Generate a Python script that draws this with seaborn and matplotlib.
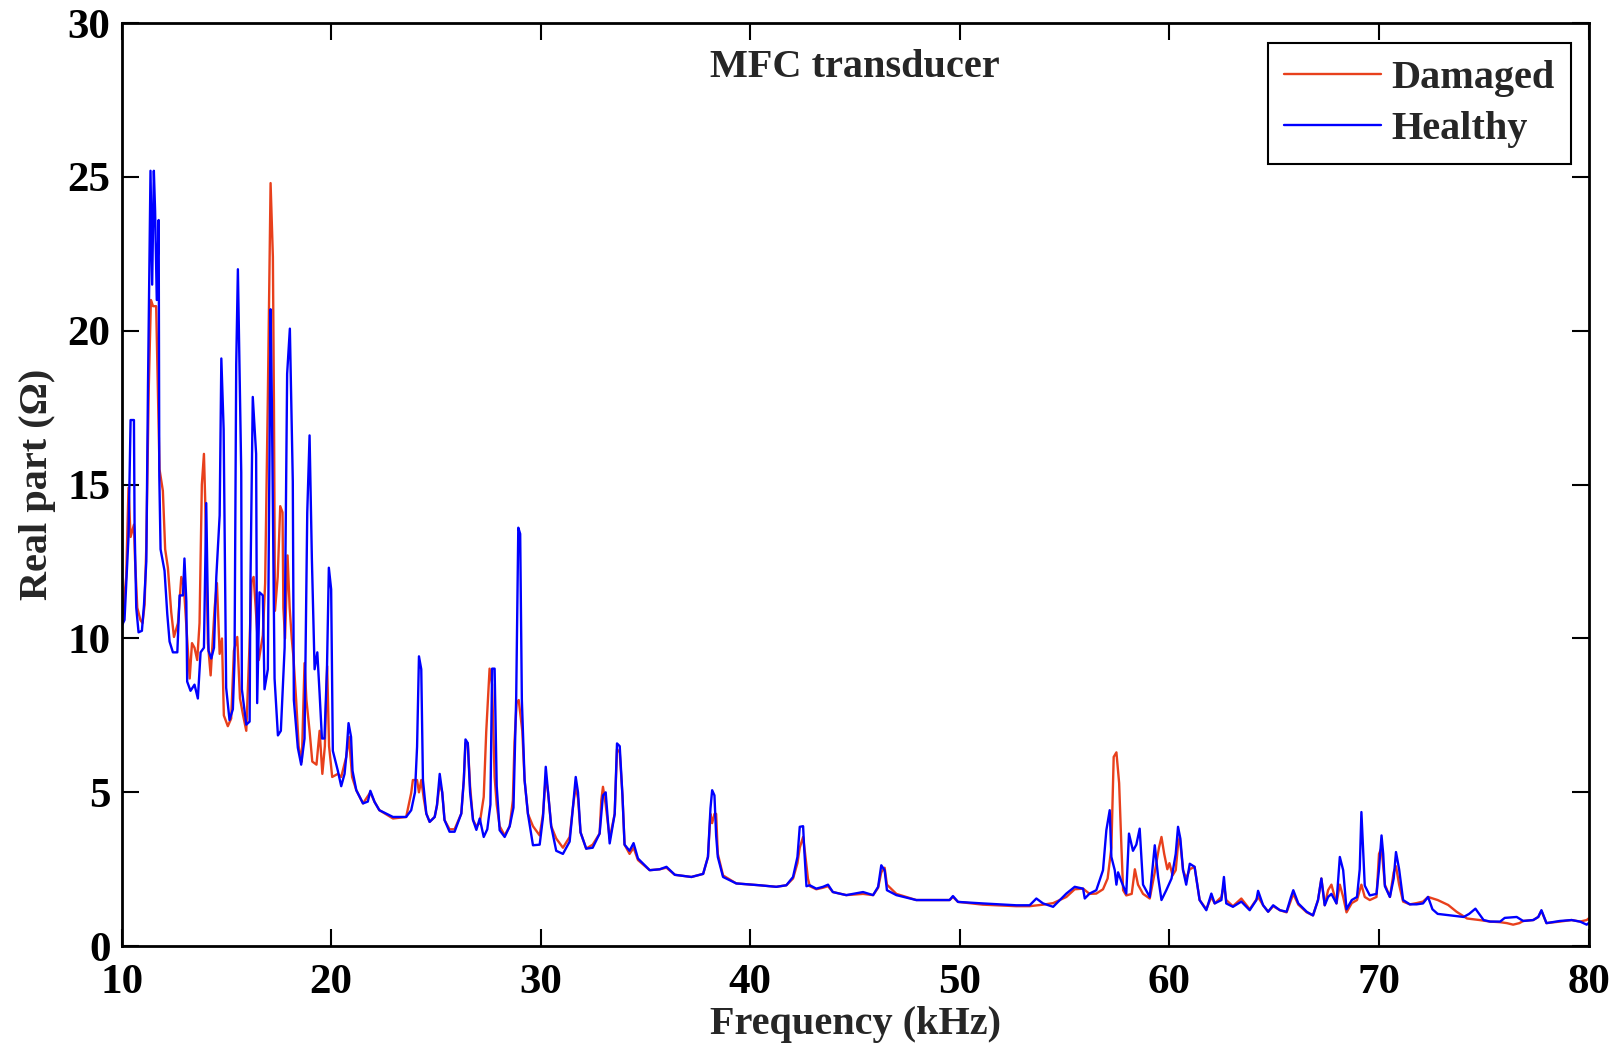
import numpy as np
import pandas as pd
import matplotlib
matplotlib.use("Agg")
import matplotlib.pyplot as plt
import seaborn as sns

# Healthy transducer, real part of impedance
healthy_khz = [10.0, 10.14, 10.33, 10.43, 10.59, 10.62, 10.7, 10.81, 10.97, 11.07,
               11.18, 11.26, 11.38, 11.46, 11.54, 11.6, 11.68, 11.77, 11.8, 11.86,
               12.05, 12.18, 12.29, 12.45, 12.66, 12.77, 12.93, 13.0, 13.09, 13.13,
               13.29, 13.48, 13.64, 13.77, 13.93, 14.04, 14.15, 14.28, 14.41, 14.52,
               14.68, 14.76, 14.87, 14.91, 14.99, 15.15, 15.31, 15.39, 15.47, 15.55,
               15.71, 15.74, 15.95, 16.11, 16.15, 16.26, 16.42, 16.47, 16.58, 16.74,
               16.82, 16.98, 17.11, 17.17, 17.3, 17.46, 17.6, 17.78, 17.9, 18.03,
               18.17, 18.22, 18.41, 18.57, 18.73, 18.86, 18.97, 19.08, 19.21, 19.34,
               19.45, 19.56, 19.68, 19.8, 19.89, 20.0, 20.08, 20.32, 20.48, 20.64,
               20.72, 20.83, 20.95, 21.02, 21.2, 21.52, 21.75, 21.87, 22.07, 22.3,
               22.95, 23.58, 23.82, 24.0, 24.1, 24.19, 24.3, 24.38, 24.54, 24.7,
               24.94, 25.05, 25.18, 25.3, 25.41, 25.65, 25.89, 26.21, 26.33, 26.41,
               26.52, 26.63, 26.77, 26.93, 27.09, 27.28, 27.45, 27.6, 27.68, 27.8,
               27.9, 28.04, 28.28, 28.52, 28.7, 28.83, 28.93, 29.02, 29.1, 29.23,
               29.39, 29.63, 29.95, 30.11, 30.24, 30.35, 30.5, 30.74, 31.06, 31.38,
               31.54, 31.67, 31.78, 31.9, 32.17, 32.48, 32.81, 32.97, 33.1, 33.29,
               33.53, 33.64, 33.77, 33.9, 34.0, 34.24, 34.43, 34.64, 35.2, 35.68,
               36.0, 36.4, 37.19, 37.75, 37.98, 38.1, 38.18, 38.29, 38.37, 38.45,
               38.7, 39.33, 40.45, 41.24, 41.72, 42.04, 42.25, 42.36, 42.52, 42.57,
               42.68, 42.84, 43.15, 43.47, 43.71, 43.94, 44.58, 45.38, 45.86, 46.1,
               46.25, 46.41, 46.52, 46.97, 47.92, 49.51, 49.67, 49.91, 51.1, 52.69,
               53.33, 53.65, 53.97, 54.45, 55.08, 55.48, 55.88, 55.96, 56.19, 56.51,
               56.83, 56.99, 57.15, 57.23, 57.39, 57.47, 57.55, 57.71, 57.94, 58.07,
               58.26, 58.42, 58.58, 58.74, 59.06, 59.3, 59.46, 59.62, 59.85, 60.1,
               60.3, 60.41, 60.52, 60.65, 60.8, 60.97, 61.2, 61.44, 61.76, 62.0,
               62.16, 62.48, 62.6, 62.71, 63.03, 63.43, 63.83, 64.15, 64.23, 64.47,
               64.71, 64.95, 65.27, 65.59, 65.8, 65.91, 66.15, 66.55, 66.85, 67.09,
               67.25, 67.41, 67.57, 67.73, 67.97, 68.13, 68.29, 68.45, 68.7, 68.95,
               69.08, 69.16, 69.32, 69.56, 69.88, 70.0, 70.12, 70.2, 70.28, 70.52,
               70.7, 70.81, 70.96, 71.15, 71.47, 71.79, 72.1, 72.34, 72.55, 72.8,
               73.4, 74.04, 74.3, 74.6, 74.99, 75.3, 75.78, 76.0, 76.57, 76.88,
               77.36, 77.6, 77.75, 77.99, 78.63, 79.19, 79.59, 79.91, 80.0]
healthy_ohm = [10.4, 10.6, 13.3, 17.1, 17.1, 13.7, 11.0, 10.2, 10.25, 11.1,
               12.5, 18.2, 25.2, 21.5, 25.2, 23.9, 21.0, 23.6, 15.3, 12.9,
               12.2, 10.8, 9.9, 9.55, 9.55, 11.4, 11.4, 12.6, 11.2, 8.6,
               8.3, 8.5, 8.05, 9.55, 9.7, 14.4, 9.6, 9.35, 9.7, 12.0,
               14.0, 19.1, 16.8, 14.0, 8.4, 7.35, 7.7, 9.3, 18.9, 22.0,
               15.4, 8.35, 7.2, 7.3, 11.85, 17.85, 16.0, 7.9, 11.5, 11.4,
               8.35, 9.0, 20.7, 17.7, 8.7, 6.85, 7.0, 9.7, 18.6, 20.07,
               15.1, 8.0, 6.45, 5.9, 6.75, 14.1, 16.6, 12.6, 9.0, 9.55,
               8.2, 6.75, 6.75, 9.0, 12.3, 11.6, 6.35, 5.7, 5.2, 5.6,
               6.15, 7.25, 6.8, 5.7, 5.07, 4.64, 4.7, 5.05, 4.69, 4.42,
               4.2, 4.2, 4.42, 5.0, 6.48, 9.42, 9.0, 5.4, 4.31, 4.04,
               4.2, 4.58, 5.6, 5.0, 4.1, 3.72, 3.72, 4.31, 5.4, 6.72,
               6.6, 5.0, 4.1, 3.78, 4.15, 3.55, 3.8, 4.6, 9.02, 9.02,
               5.2, 3.77, 3.55, 3.9, 4.5, 8.1, 13.6, 13.4, 8.0, 5.4,
               4.3, 3.28, 3.3, 4.2, 5.83, 5.0, 3.9, 3.1, 3.0, 3.4,
               4.53, 5.5, 5.0, 3.7, 3.17, 3.2, 3.66, 4.9, 5.0, 3.34,
               4.3, 6.59, 6.5, 4.9, 3.3, 3.1, 3.35, 2.85, 2.47, 2.5,
               2.58, 2.32, 2.25, 2.35, 2.9, 4.48, 5.07, 4.9, 3.6, 2.9,
               2.25, 2.04, 1.98, 1.93, 1.98, 2.25, 2.9, 3.88, 3.9, 3.2,
               1.95, 1.98, 1.87, 1.93, 2.0, 1.76, 1.66, 1.76, 1.66, 1.93,
               2.63, 2.47, 1.82, 1.66, 1.5, 1.5, 1.63, 1.44, 1.39, 1.33,
               1.33, 1.55, 1.39, 1.28, 1.71, 1.93, 1.87, 1.55, 1.71, 1.82,
               2.47, 3.77, 4.42, 2.9, 2.47, 2.0, 2.4, 2.1, 1.71, 3.66,
               3.1, 3.3, 3.82, 2.0, 1.6, 3.28, 2.25, 1.5, 1.82, 2.2,
               3.0, 3.88, 3.5, 2.47, 2.0, 2.68, 2.58, 1.5, 1.17, 1.71,
               1.39, 1.5, 2.25, 1.39, 1.28, 1.45, 1.17, 1.5, 1.8, 1.33,
               1.12, 1.33, 1.17, 1.12, 1.6, 1.82, 1.39, 1.12, 1.0, 1.5,
               2.2, 1.33, 1.6, 1.7, 1.39, 2.9, 2.47, 1.2, 1.5, 1.6,
               2.5, 4.36, 1.97, 1.65, 1.7, 2.5, 3.6, 3.0, 1.95, 1.6,
               2.2, 3.06, 2.5, 1.5, 1.36, 1.36, 1.39, 1.6, 1.2, 1.05,
               1.0, 0.95, 1.05, 1.22, 0.85, 0.8, 0.8, 0.92, 0.95, 0.82,
               0.85, 0.95, 1.17, 0.75, 0.82, 0.85, 0.8, 0.7, 0.75]

# Damaged transducer
damaged_khz = [10.0, 10.06, 10.22, 10.33, 10.43, 10.59, 10.64, 10.75, 10.9, 11.0,
               11.1, 11.18, 11.3, 11.4, 11.5, 11.65, 11.81, 11.97, 12.08, 12.21,
               12.37, 12.5, 12.69, 12.85, 12.97, 13.09, 13.25, 13.36, 13.48, 13.61,
               13.72, 13.83, 13.93, 13.99, 14.12, 14.25, 14.44, 14.55, 14.68, 14.79,
               14.88, 15.07, 15.23, 15.36, 15.52, 15.65, 15.8, 15.95, 16.1, 16.2,
               16.3, 16.4, 16.55, 16.74, 16.85, 16.98, 17.11, 17.22, 17.27, 17.32,
               17.45, 17.57, 17.68, 17.72, 17.8, 17.92, 18.02, 18.12, 18.2, 18.33,
               18.45, 18.6, 18.73, 18.82, 18.97, 19.1, 19.3, 19.45, 19.58, 19.7,
               19.81, 19.9, 20.05, 20.32, 20.48, 20.72, 20.85, 21.0, 21.2, 21.52,
               21.87, 22.07, 22.3, 22.95, 23.58, 23.82, 23.9, 24.1, 24.19, 24.3,
               24.42, 24.54, 24.7, 24.94, 25.05, 25.18, 25.3, 25.41, 25.65, 25.89,
               26.21, 26.33, 26.41, 26.52, 26.63, 26.77, 26.93, 27.09, 27.28, 27.4,
               27.56, 27.68, 27.8, 27.9, 28.04, 28.28, 28.52, 28.67, 28.75, 28.85,
               28.95, 29.12, 29.23, 29.39, 29.63, 29.95, 30.11, 30.24, 30.35, 30.5,
               30.74, 31.06, 31.38, 31.54, 31.67, 31.78, 31.9, 32.17, 32.48, 32.81,
               32.89, 32.97, 33.1, 33.29, 33.53, 33.64, 33.77, 33.9, 34.0, 34.24,
               34.43, 34.64, 35.2, 35.68, 36.0, 36.4, 37.19, 37.75, 37.98, 38.1,
               38.18, 38.29, 38.37, 38.45, 38.7, 39.33, 40.45, 41.24, 41.72, 42.04,
               42.25, 42.36, 42.52, 42.6, 42.75, 42.84, 43.15, 43.47, 43.71, 43.94,
               44.58, 45.38, 45.86, 46.1, 46.25, 46.41, 46.52, 46.97, 47.92, 49.51,
               49.67, 49.91, 51.1, 52.69, 53.33, 53.97, 54.45, 55.08, 55.48, 55.88,
               56.19, 56.51, 56.83, 57.05, 57.23, 57.34, 57.47, 57.6, 57.71, 57.79,
               57.94, 58.2, 58.35, 58.5, 58.74, 59.06, 59.3, 59.5, 59.62, 59.75,
               59.9, 60.0, 60.15, 60.3, 60.41, 60.49, 60.65, 60.8, 60.97, 61.2,
               61.44, 61.76, 62.0, 62.16, 62.48, 62.6, 62.71, 63.03, 63.43, 63.83,
               64.23, 64.47, 64.71, 64.95, 65.27, 65.59, 65.8, 65.91, 66.15, 66.55,
               66.85, 67.09, 67.25, 67.41, 67.57, 67.73, 67.97, 68.13, 68.29, 68.45,
               68.7, 68.95, 69.16, 69.32, 69.56, 69.88, 70.0, 70.12, 70.28, 70.52,
               70.7, 70.81, 70.96, 71.15, 71.47, 71.79, 72.1, 72.34, 72.8, 73.3,
               73.7, 74.2, 74.8, 75.3, 75.78, 76.1, 76.4, 76.7, 76.88, 77.36,
               77.6, 77.75, 77.99, 78.63, 79.19, 79.59, 79.91, 80.0]
damaged_ohm = [10.6, 10.8, 12.0, 14.9, 13.3, 13.7, 12.6, 11.0, 10.6, 10.5,
               11.1, 13.0, 18.2, 21.0, 20.8, 20.8, 15.5, 14.8, 12.9, 12.3,
               10.85, 10.05, 10.5, 12.0, 11.7, 10.4, 8.7, 9.85, 9.7, 9.3,
               10.5, 15.0, 16.0, 14.5, 9.85, 8.8, 11.0, 11.8, 9.5, 10.0,
               7.5, 7.15, 7.4, 9.6, 10.05, 8.05, 7.5, 7.0, 9.7, 11.85,
               12.0, 11.0, 9.3, 10.1, 11.8, 17.9, 24.8, 22.4, 17.7, 10.9,
               12.0, 14.3, 14.1, 11.0, 10.0, 12.7, 11.0, 10.0, 9.4, 8.0,
               6.5, 6.0, 9.2, 8.0, 7.0, 6.0, 5.9, 7.0, 5.6, 6.5,
               9.1, 6.5, 5.5, 5.6, 5.5, 6.15, 6.8, 5.5, 5.07, 4.64,
               5.0, 4.69, 4.42, 4.15, 4.2, 4.98, 5.4, 5.4, 5.0, 5.4,
               4.8, 4.31, 4.04, 4.2, 4.58, 5.3, 5.0, 4.1, 3.8, 3.8,
               4.31, 5.4, 6.6, 6.6, 5.2, 4.1, 3.9, 4.0, 4.85, 6.97,
               9.02, 8.5, 5.5, 4.6, 3.9, 3.6, 3.9, 4.74, 6.64, 7.9,
               8.0, 7.0, 5.4, 4.3, 3.9, 3.6, 4.3, 5.5, 5.0, 3.9,
               3.5, 3.2, 3.55, 4.53, 5.2, 4.8, 3.7, 3.17, 3.3, 3.66,
               4.74, 5.18, 4.6, 3.5, 4.3, 6.4, 6.3, 4.9, 3.3, 3.0,
               3.2, 2.8, 2.47, 2.5, 2.55, 2.32, 2.25, 2.35, 2.9, 4.3,
               4.0, 4.3, 4.3, 3.0, 2.3, 2.04, 1.98, 1.93, 1.98, 2.2,
               2.7, 3.2, 3.55, 3.1, 2.2, 1.95, 1.85, 1.9, 1.95, 1.76,
               1.66, 1.7, 1.66, 1.9, 2.4, 2.55, 2.0, 1.7, 1.5, 1.5,
               1.6, 1.44, 1.35, 1.3, 1.3, 1.35, 1.4, 1.6, 1.85, 1.87,
               1.7, 1.71, 1.85, 2.2, 3.2, 6.15, 6.3, 5.3, 3.2, 1.82,
               1.65, 1.7, 2.5, 2.0, 1.7, 1.55, 2.4, 3.2, 3.55, 3.0,
               2.5, 2.7, 2.3, 2.47, 3.3, 3.55, 2.47, 2.2, 2.5, 2.58,
               1.5, 1.2, 1.6, 1.39, 1.6, 2.0, 1.5, 1.3, 1.55, 1.2,
               1.6, 1.33, 1.12, 1.3, 1.17, 1.1, 1.5, 1.7, 1.35, 1.1,
               1.0, 1.5, 2.2, 1.33, 1.82, 2.0, 1.39, 2.0, 1.6, 1.1,
               1.4, 1.5, 2.0, 1.6, 1.5, 1.6, 3.0, 3.2, 2.0, 1.6,
               2.4, 2.6, 2.0, 1.45, 1.36, 1.4, 1.45, 1.6, 1.5, 1.34,
               1.12, 0.9, 0.85, 0.8, 0.78, 0.75, 0.7, 0.75, 0.82, 0.85,
               0.95, 1.15, 0.75, 0.8, 0.85, 0.8, 0.85, 0.9]

assert len(healthy_khz) == len(healthy_ohm)
assert len(damaged_khz) == len(damaged_ohm)

df_h = pd.DataFrame({'freq': healthy_khz, 'real': healthy_ohm})
df_d = pd.DataFrame({'freq': damaged_khz, 'real': damaged_ohm})

sns.set_style("ticks")
plt.rcParams['font.family'] = ['Liberation Serif', 'DejaVu Serif']
plt.rcParams['font.weight'] = 'bold'

fig = plt.figure(figsize=(16.21, 10.49), dpi=100)
ax = fig.add_axes([0.075, 0.098, 0.905, 0.880])

# damaged first so the healthy curve sits on top
sns.lineplot(data=df_d, x='freq', y='real', color='#e8401c', lw=1.7,
             sort=False, estimator=None, label='Damaged', ax=ax)
sns.lineplot(data=df_h, x='freq', y='real', color='#0000ff', lw=1.7,
             sort=False, estimator=None, label='Healthy', ax=ax)

ax.set_xlim(10, 80)
ax.set_ylim(0, 30)
ax.set_xticks(np.arange(10, 81, 10))
ax.set_yticks(np.arange(0, 31, 5))
ax.tick_params(direction='in', length=12, width=1.5, top=True, right=True,
               labelsize=31, colors='black')
ax.tick_params(axis='x', pad=13)
ax.tick_params(axis='y', pad=8)
for lab in ax.get_xticklabels() + ax.get_yticklabels():
    lab.set_fontweight('bold')
for sp in ax.spines.values():
    sp.set_linewidth(2)
    sp.set_color('black')

ax.set_xlabel('Frequency (kHz)', fontsize=29, fontweight='bold', labelpad=3)
ax.set_ylabel('Real part (Ω)', fontsize=29, fontweight='bold', labelpad=8)
ax.text(0.5, 0.952, 'MFC transducer', transform=ax.transAxes, ha='center',
        va='center', fontsize=29, fontweight='bold')

leg = ax.legend(loc='upper right', bbox_to_anchor=(0.9877, 0.978), borderaxespad=0,
                handlelength=2.4, handletextpad=0.25, fancybox=False, framealpha=1,
                labelspacing=0.35, edgecolor='black',
                prop={'weight': 'bold', 'size': 29})
leg.get_frame().set_linewidth(1.5)

fig.savefig('out.png', dpi=100)
